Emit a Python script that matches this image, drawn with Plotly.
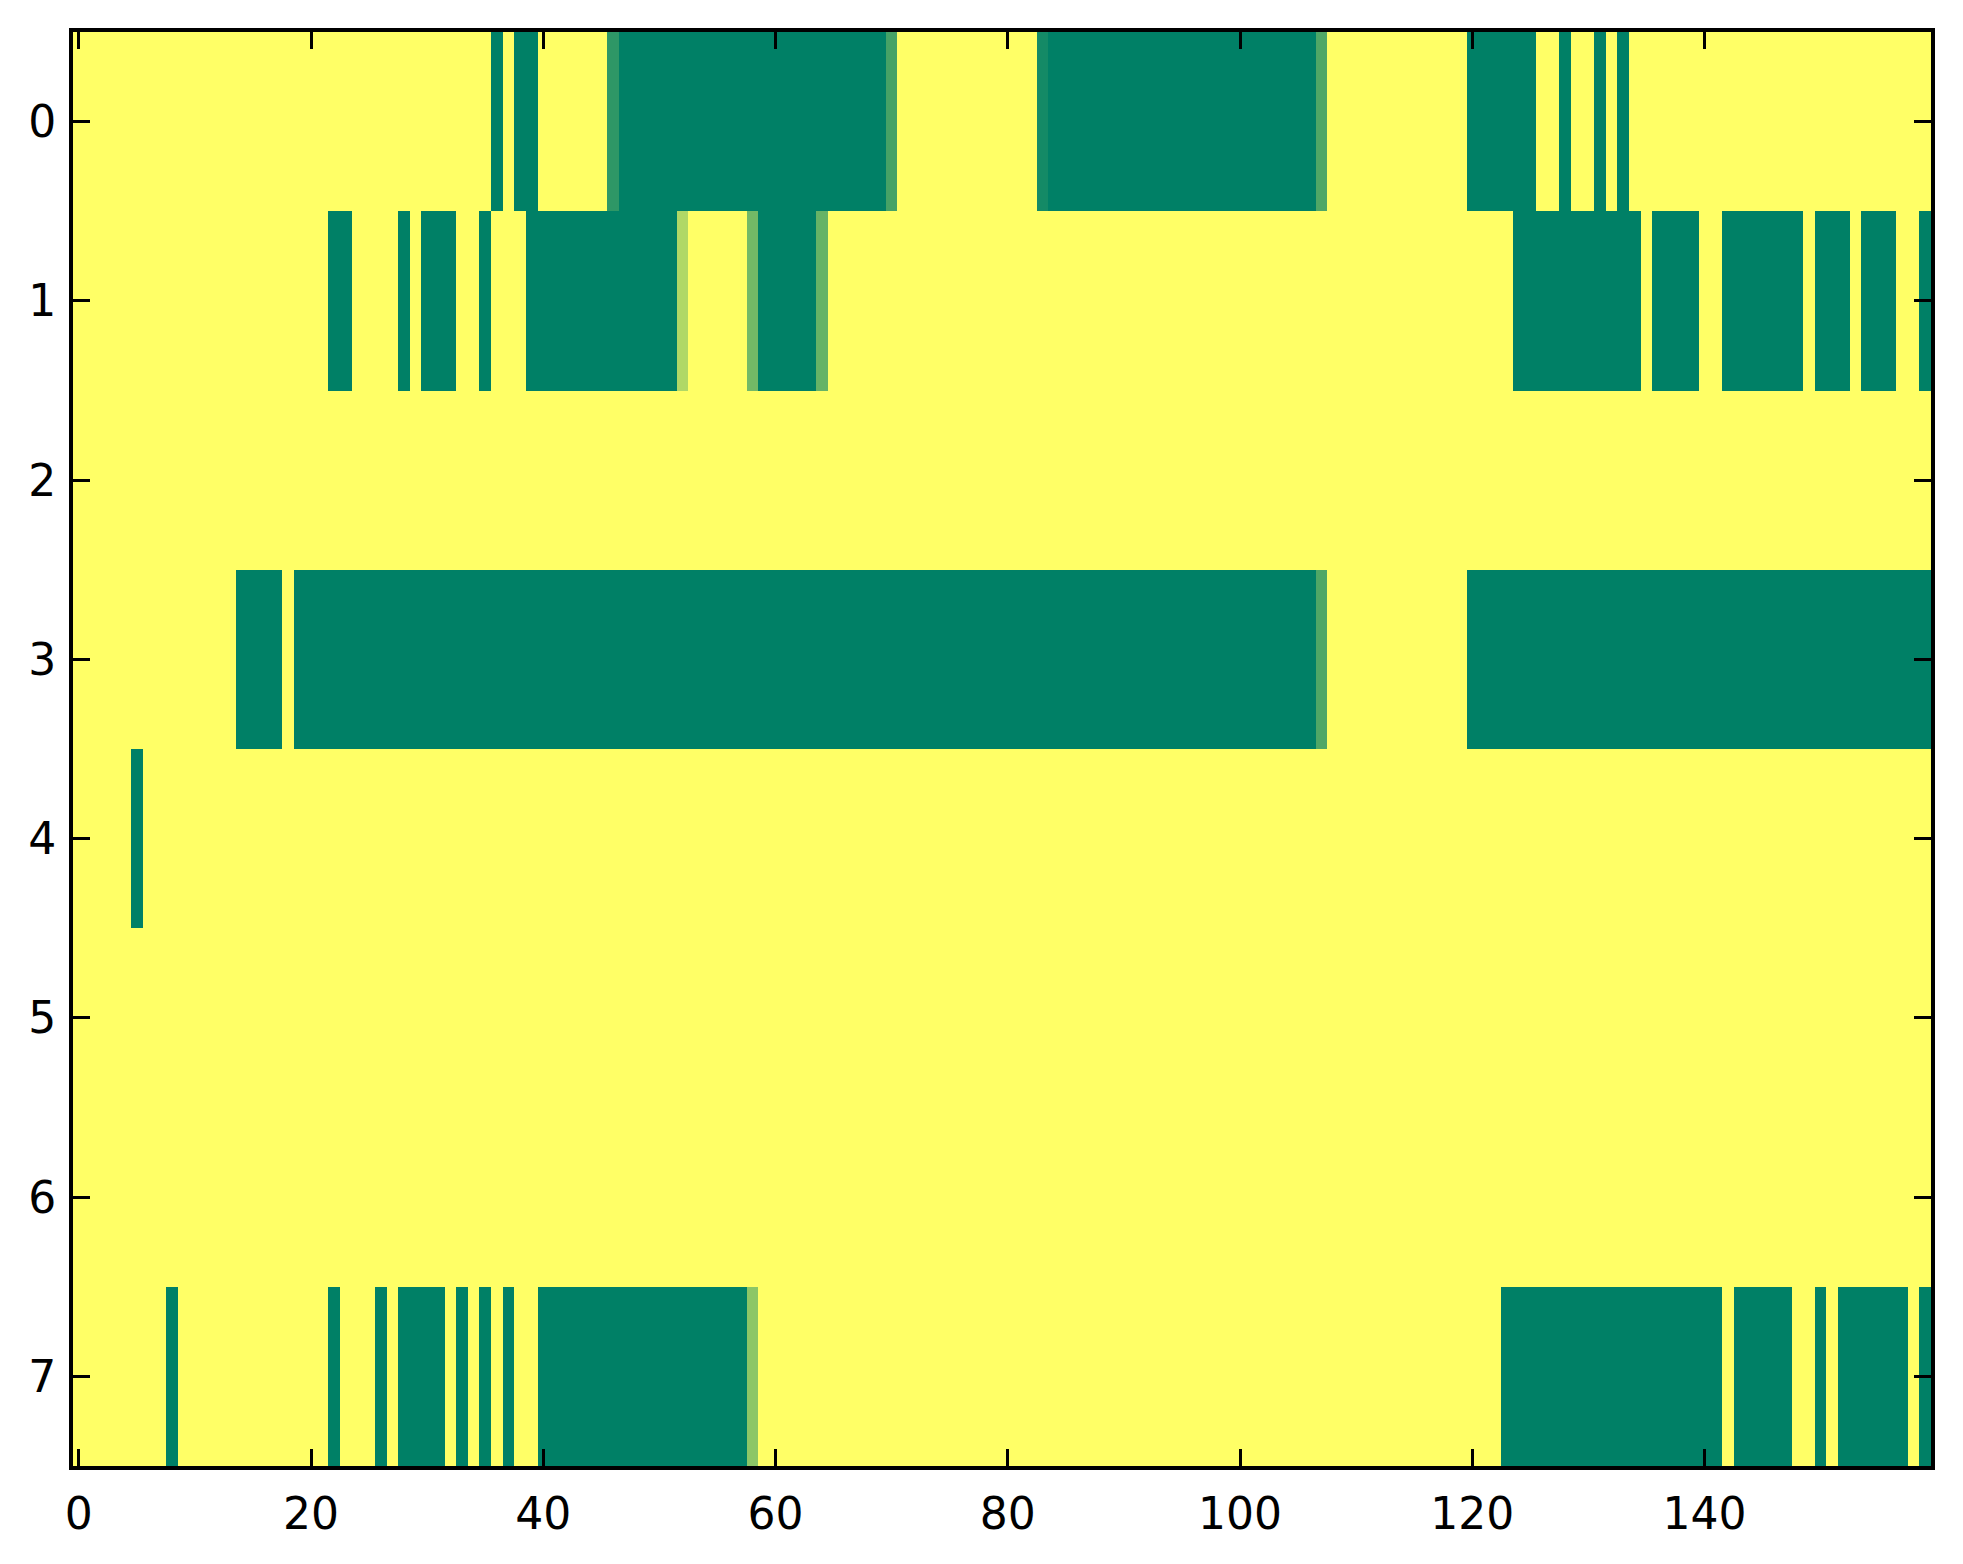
import numpy as np
import plotly.graph_objects as go

# ------------------------------
# data: 8 rows x 160 columns, value 1 = yellow, 0 = green
# green runs are (first, last) column, inclusive; partial cells carry their value
# ------------------------------
n_rows = 8
n_cols = 160

row0_green = [(36, 36), (38, 39), (47, 69), (84, 106), (120, 125), (128, 128), (131, 131), (133, 133)]
row0_partial = {46: 0.18, 70: 0.27, 83: 0.08, 107: 0.31}

row1_green = [(22, 23), (28, 28), (30, 32), (35, 35), (39, 51), (59, 63), (124, 134),
              (136, 139), (142, 148), (150, 152), (154, 156), (159, 159)]
row1_partial = {52: 0.69, 58: 0.45, 64: 0.40}

row2_green = []
row2_partial = {}

row3_green = [(14, 17), (19, 106), (120, 159)]
row3_partial = {107: 0.31}

row4_green = [(5, 5)]
row4_partial = {}

row5_green = []
row5_partial = {}

row6_green = []
row6_partial = {}

row7_green = [(8, 8), (22, 22), (26, 26), (28, 31), (33, 33), (35, 35), (37, 37), (40, 57),
              (123, 141), (143, 147), (150, 150), (152, 157), (159, 159)]
row7_partial = {58: 0.55}

x_ticks = [0, 20, 40, 60, 80, 100, 120, 140]
y_ticks = [0, 1, 2, 3, 4, 5, 6, 7]

greens = [row0_green, row1_green, row2_green, row3_green,
          row4_green, row5_green, row6_green, row7_green]
partials = [row0_partial, row1_partial, row2_partial, row3_partial,
            row4_partial, row5_partial, row6_partial, row7_partial]

z = np.ones((n_rows, n_cols))
for r in range(n_rows):
    for a, b in greens[r]:
        z[r, a:b + 1] = 0.0
    for c, v in partials[r].items():
        z[r, c] = v

# matplotlib "summer" colormap
summer = [[0.0, "rgb(0,128,102)"], [1.0, "rgb(255,255,102)"]]

fig = go.Figure(go.Heatmap(
    z=z,
    x=list(range(n_cols)),
    y=list(range(n_rows)),
    colorscale=summer,
    zmin=0, zmax=1,
    showscale=False,
    hoverinfo="skip",
))

axis_style = dict(
    showgrid=False,
    zeroline=False,
    showline=True,
    linecolor="black",
    linewidth=4,
    mirror="ticks",
    ticks="inside",
    ticklen=17,
    tickwidth=2.5,
    tickcolor="black",
    tickfont=dict(family="DejaVu Sans", size=44, color="black"),
)

fig.update_xaxes(
    range=[-0.5, n_cols - 0.5],
    tickvals=x_ticks,
    ticklabelstandoff=6,
    **axis_style,
)
fig.update_yaxes(
    range=[n_rows - 0.5, -0.5],
    tickvals=y_ticks,
    ticklabelstandoff=4,
    **axis_style,
)

fig.update_layout(
    width=1963,
    height=1564,
    margin=dict(l=65, r=40, t=24, b=106),
    paper_bgcolor="white",
    plot_bgcolor="white",
)

fig.write_html("out.html")
